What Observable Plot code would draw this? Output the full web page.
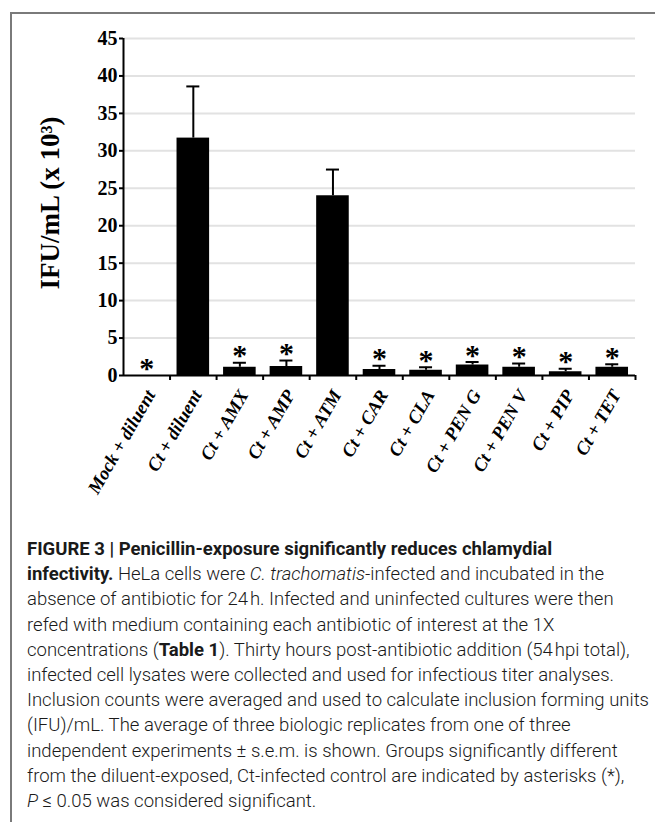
<!DOCTYPE html>
<html>
<head>
<meta charset="utf-8">
<script src="https://cdn.jsdelivr.net/npm/d3@7"></script>
<script src="https://cdn.jsdelivr.net/npm/@observablehq/plot@0.6"></script>
<style>
  html, body { margin: 0; padding: 0; background: #fff; }
  body { width: 655px; height: 822px; position: relative; overflow: hidden; }
  #frame { position: absolute; left: 10px; top: 12px; right: -5px; bottom: -5px;
           border-left: 2px solid #7a7a7a; border-top: 2px solid #7a7a7a; }
  #chart { position: absolute; left: 0; top: 0; }
  #caption { position: absolute; left: 27px; top: 537px; font-family: Roboto, "Liberation Sans", sans-serif;
             font-size: 18.5px; font-weight: 300; line-height: 25.2px; color: #1a1a1a; transform-origin: 0 0; white-space: nowrap; }
  #caption div { white-space: nowrap; }
  #caption b { font-weight: 700; }
</style>
</head>
<body>
<div id="frame"></div>
<div id="chart"></div>
<div id="caption">
  <div id="capTop"><b>FIGURE 3 | Penicillin-exposure significantly reduces chlamydial</b></div>
  <div><b>infectivity.</b> HeLa cells were <i>C. trachomatis</i>-infected and incubated in the</div>
  <div>absence of antibiotic for 24&#8202;h. Infected and uninfected cultures were then</div>
  <div>refed with medium containing each antibiotic of interest at the 1X</div>
  <div>concentrations (<b>Table 1</b>). Thirty hours post-antibiotic addition (54&#8202;hpi total),</div>
  <div>infected cell lysates were collected and used for infectious titer analyses.</div>
  <div id="capRef">Inclusion counts were averaged and used to calculate inclusion forming units</div>
  <div>(IFU)/mL. The average of three biologic replicates from one of three</div>
  <div>independent experiments ± s.e.m. is shown. Groups significantly different</div>
  <div>from the diluent-exposed, Ct-infected control are indicated by asterisks (*),</div>
  <div><i>P</i> ≤ 0.05 was considered significant.</div>
</div>
<script>
// ---- data ----
const categories = ["Mock + diluent", "Ct + diluent", "Ct + AMX", "Ct + AMP", "Ct + ATM",
  "Ct + CAR", "Ct + CLA", "Ct + PEN G", "Ct + PEN V", "Ct + PIP", "Ct + TET"];
const means = [0, 31.7, 1.1, 1.2, 24.0, 0.8, 0.7, 1.4, 1.1, 0.5, 1.1];
const sems  = [0, 6.9, 0.6, 0.8, 3.5, 0.5, 0.4, 0.4, 0.5, 0.4, 0.4];
const significant = [true, false, true, true, false, true, true, true, true, true, true];
const yTicks = [0, 5, 10, 15, 20, 25, 30, 35, 40, 45];
const yLabel = "IFU/mL (x 10³)";

const data = categories.map((c, i) => ({i, cat: c, mean: means[i], top: means[i] + sems[i], sig: significant[i]}));

const serif = "'Liberation Serif', 'Times New Roman', serif";

const chart = Plot.plot({
  width: 655,
  height: 520,
  marginLeft: 123,
  marginRight: 20,
  marginTop: 38,
  marginBottom: 145,
  style: {fontFamily: serif, color: "black", background: "transparent"},
  x: {domain: [0, categories.length], axis: null},
  y: {domain: [0, 45], axis: null},
  marks: [
    Plot.gridY(yTicks.filter(d => d > 0), {stroke: "#e2e2e2", strokeOpacity: 1, strokeWidth: 2}),
    Plot.rectY(data, {x1: d => d.i + 0.15, x2: d => d.i + 0.85, y: "mean", fill: "black"}),
    Plot.ruleX(data.filter(d => d.top > d.mean), {x: d => d.i + 0.5, y1: "mean", y2: "top", strokeWidth: 2}),
    Plot.ruleY(data.filter(d => d.top > d.mean), {y: "top", x1: d => d.i + 0.36, x2: d => d.i + 0.64, strokeWidth: 2}),
    Plot.text(data.filter(d => d.sig), {x: d => d.i + 0.5, y: "top", text: () => "*", fontSize: 30, fontWeight: "bold", dy: -7}),
    Plot.axisY({ticks: yTicks, tickSize: 4, tickPadding: 2, fontSize: 20, fontWeight: "bold", label: null, strokeWidth: 2}),
    Plot.axisX({ticks: d3.range(1, categories.length + 1), tickSize: 5, tickFormat: () => "", strokeWidth: 2}),
    Plot.ruleY([0], {strokeWidth: 2}),
    Plot.ruleX([0], {strokeWidth: 2}),
    Plot.text(data, {x: d => d.i + 0.5, y: () => 0, text: "cat", rotate: -60, textAnchor: "end",
      fontSize: 18.5, fontWeight: "bold", fontStyle: "italic", dx: 4, dy: 16}),
    Plot.text([yLabel], {frameAnchor: "left", text: d => d, rotate: -90, textAnchor: "middle", dx: -73, dy: -4, fontSize: 27, fontWeight: "bold"})
  ]
});
document.getElementById("chart").appendChild(chart);

// fit condensed caption width to the reference line width
const cap = document.getElementById("caption");
const ref = document.getElementById("capRef");
const w = ref.getBoundingClientRect().width;
const s = 622 / w;
cap.style.transform = `scaleX(${s})`;
</script>
</body>
</html>
